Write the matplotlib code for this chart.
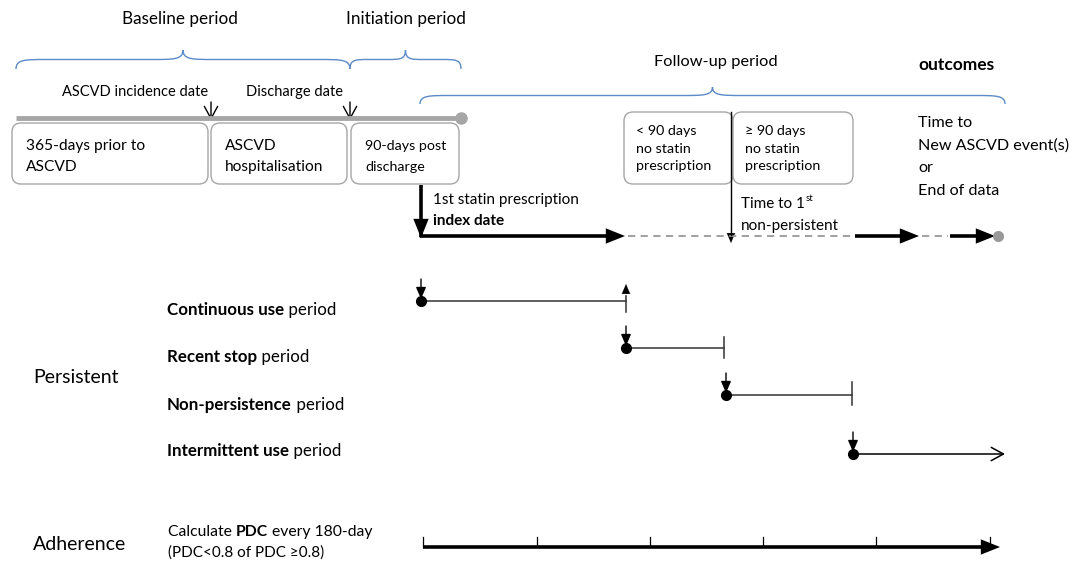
import matplotlib
matplotlib.use("Agg")
import matplotlib.pyplot as plt
from matplotlib.patches import FancyBboxPatch, PathPatch, FancyArrowPatch
from matplotlib.path import Path

plt.rcParams['font.family'] = ['Lato', 'DejaVu Sans']

W, H = 1075, 561
fig = plt.figure(figsize=(W / 100, H / 100), dpi=100)
ax = fig.add_axes([0, 0, 1, 1])
ax.set_xlim(0, W)
ax.set_ylim(H, 0)
ax.axis('off')

# ---- data (labels and timeline events) ----
period_labels = ["Baseline period", "Initiation period", "Follow-up period"]
period_spans = [(16, 350), (350, 461), (420, 1005)]
period_label_x = [180, 406, 716]
date_labels = ["ASCVD incidence date", "Discharge date"]
date_x = [211, 350]
box_labels = ["365-days prior to\nASCVD", "ASCVD\nhospitalisation", "90-days post\ndischarge"]
box_spans = [(12, 208), (211, 347), (351, 459)]
gap_labels = ["< 90 days\nno statin\nprescription", "\u2265 90 days\nno statin\nprescription"]
gap_spans = [(624, 733), (733, 853)]
outcome_lines = ["Time to", "New ASCVD event(s)", "or", "End of data"]
# follow-up timeline segments (start, end, solid?)
timeline_x = [421, 625, 855, 919, 950, 998]
timeline_solid = [True, False, True, False, True]
period_names_bold = ["Continuous use", "Recent stop", "Non-persistence", "Intermittent use"]
period_rows_y = [310, 357, 405, 451]
period_starts = [421, 626, 726, 853]
period_ends = [626, 724, 852, 1005]
pdc_ticks = [423, 537, 650, 763, 876, 990]

blue = '#5b8bc9'
grey = '#a6a6a6'

renderer = fig.canvas.get_renderer()


def brace(x0, x1, ytip, ybase):
    xm = (x0 + x1) / 2
    ymid = (ytip + ybase) / 2
    r = min(30, (x1 - x0) / 6)
    verts = [(x0, ybase), (x0, ymid), (x0 + r * 0.3, ymid), (x0 + r, ymid),
             (xm - r, ymid),
             (xm - r * 0.3, ymid), (xm, ymid), (xm, ytip),
             (xm, ymid), (xm + r * 0.3, ymid), (xm + r, ymid),
             (x1 - r, ymid),
             (x1 - r * 0.3, ymid), (x1, ymid), (x1, ybase)]
    codes = [Path.MOVETO, Path.CURVE4, Path.CURVE4, Path.CURVE4,
             Path.LINETO,
             Path.CURVE4, Path.CURVE4, Path.CURVE4,
             Path.CURVE4, Path.CURVE4, Path.CURVE4,
             Path.LINETO,
             Path.CURVE4, Path.CURVE4, Path.CURVE4]
    ax.add_patch(PathPatch(Path(verts, codes), fill=False, ec=blue, lw=1.0))


def mixed(x, y, parts, fs):
    for txt, bold in parts:
        t = ax.text(x, y, txt, fontsize=fs, fontweight='bold' if bold else 'normal',
                    va='center', ha='left')
        x += t.get_window_extent(renderer).width


def arrow(x0, y0, x1, y1, lw=1.0, hw=4, hl=8, color='black'):
    a = FancyArrowPatch((x0, y0), (x1, y1), arrowstyle=f'-|>,head_width={hw/4:.2f},head_length={hl/4:.2f}',
                        lw=lw, color=color, mutation_scale=4, shrinkA=0, shrinkB=0)
    ax.add_patch(a)


def thick_arrow(x0, y0, x1, y1):
    a = FancyArrowPatch((x0, y0), (x1, y1), arrowstyle='-|>,head_width=0.4,head_length=1.0',
                        lw=2.6, color='black', mutation_scale=9, shrinkA=0, shrinkB=0,
                        joinstyle='miter', capstyle='butt')
    ax.add_patch(a)


def open_arrow(x0, y0, x1, y1, lw=1.0):
    a = FancyArrowPatch((x0, y0), (x1, y1), arrowstyle='->,head_width=1.2,head_length=2.2',
                        lw=lw, color='black', mutation_scale=4, shrinkA=0, shrinkB=0)
    ax.add_patch(a)


# ---- period headers and braces ----
ax.text(period_label_x[0], 19, period_labels[0], fontsize=12.3, ha='center', va='center')
ax.text(period_label_x[1], 19, period_labels[1], fontsize=12.3, ha='center', va='center')
ax.text(period_label_x[2], 62, period_labels[2], fontsize=11.8, ha='center', va='center')
ax.text(918, 65, "outcomes", fontsize=12.5, ha='left', va='center', fontweight='bold')
brace(period_spans[0][0], period_spans[0][1], 50, 69)
brace(period_spans[1][0], period_spans[1][1], 50, 69)
brace(period_spans[2][0], period_spans[2][1], 87, 104)

# ---- baseline timeline ----
ax.plot([16, 461], [118, 118], color=grey, lw=3.5, solid_capstyle='butt', zorder=2)
ax.plot([461], [118], 'o', color=grey, ms=8, zorder=3)
ax.text(135, 92, date_labels[0], fontsize=10.5, ha='center', va='center')
ax.text(295, 92, date_labels[1], fontsize=10.5, ha='center', va='center')
for x in date_x:
    open_arrow(x, 102, x, 120, lw=1.0)

for (x0, x1), lab in zip(box_spans, box_labels):
    ax.add_patch(FancyBboxPatch((x0, 123), x1 - x0, 61, boxstyle="round,pad=0,rounding_size=9",
                                fc='white', ec=grey, lw=1.0, zorder=2))
for (x0, x1), lab, fs in zip(box_spans, box_labels, [11.2, 11.2, 10.3]):
    l1, l2 = lab.split("\n")
    ax.text(x0 + 14, 146, l1, fontsize=fs, ha='left', va='center', zorder=4)
    ax.text(x0 + 14, 167, l2, fontsize=fs, ha='left', va='center', zorder=4)

# ---- follow-up boxes ----
for (x0, x1), lab in zip(gap_spans, gap_labels):
    ax.add_patch(FancyBboxPatch((x0, 112), x1 - x0, 72, boxstyle="round,pad=0,rounding_size=9",
                                fc='white', ec=grey, lw=1.0, zorder=2))
    for i, ln in enumerate(lab.split("\n")):
        ax.text(x0 + 12, 131 + i * 17.5, ln, fontsize=10.3, ha='left', va='center', zorder=4)

for i, ln in enumerate(outcome_lines):
    ax.text(918, 123 + i * 22.5, ln, fontsize=11.6, ha='left', va='center')

# index date arrow
thick_arrow(421, 185, 421, 238)
ax.text(433, 200, "1st statin prescription", fontsize=11, ha='left', va='center')
ax.text(433, 221, "index date", fontsize=11, ha='left', va='center', fontweight='bold')

# follow-up timeline
Y = 236
ax.plot([421, 421], [230, 237.3], color='black', lw=2.6, solid_capstyle='butt')
for i, solid in enumerate(timeline_solid):
    x0, x1 = timeline_x[i], timeline_x[i + 1]
    if solid:
        thick_arrow(x0 - (1.3 if i == 0 else 0), Y, x1 - (3 if i == 4 else 0), Y)
    else:
        ax.plot([x0 + 3, x1 - 2], [Y, Y], color='#999999', lw=1.3, ls=(0, (4, 3)))
ax.plot([timeline_x[-1]], [Y], 'o', color='#999999', ms=7, zorder=5)

# time to first non-persistent arrow
ax.plot([731, 731], [112, 235], color='black', lw=1.0)
arrow(731, 228, 731, 243, lw=0.1, hw=3, hl=7)
t = ax.text(741, 204, "Time to 1", fontsize=11, ha='left', va='center')
bb = t.get_window_extent(renderer)
ax.text(741 + bb.width + 1, 198, "st", fontsize=7, ha='left', va='center')
ax.text(741, 226, "non-persistent", fontsize=11, ha='left', va='center')

# ---- persistent section ----
ax.text(33, 377, "Persistent", fontsize=14, ha='left', va='center')
for y, b in zip(period_rows_y, period_names_bold):
    mixed(167, y, [(b, True), (" period", False)], fs=12.2)

line_y = [301, 348, 395, 454]
for i, (x0, x1, ly) in enumerate(zip(period_starts, period_ends, line_y)):
    arrow(x0, ly - 22, x0, ly - 2, lw=1.0, hw=3, hl=7)
    ax.plot([x0], [ly], 'o', color='black', ms=7, zorder=5)
    if i < 3:
        ax.plot([x0, x1], [ly, ly], color='#333333', lw=1.1)
    else:
        open_arrow(x0, ly, x1, ly, lw=1.1)
# up arrow at end of continuous use
ax.plot([626, 626], [296, 312], color='#333333', lw=1.1)
arrow(626, 298, 626, 284, lw=0.1, hw=3, hl=7)
# end ticks
ax.plot([724, 724], [337, 358], color='#333333', lw=1.1)
ax.plot([852, 852], [382, 405], color='#333333', lw=1.1)

# ---- adherence ----
ax.text(33, 545, "Adherence", fontsize=14, ha='left', va='center')
mixed(168, 532, [("Calculate ", False), ("PDC", True), (" every 180-day", False)], fs=11.3)
ax.text(168, 553, "(PDC<0.8 of PDC \u22650.8)", fontsize=11, ha='left', va='center')

thick_arrow(423, 547, 1000, 547)
for x in pdc_ticks:
    ax.plot([x, x], [537, 547], color='black', lw=0.9)

fig.savefig("out.png", dpi=100)
